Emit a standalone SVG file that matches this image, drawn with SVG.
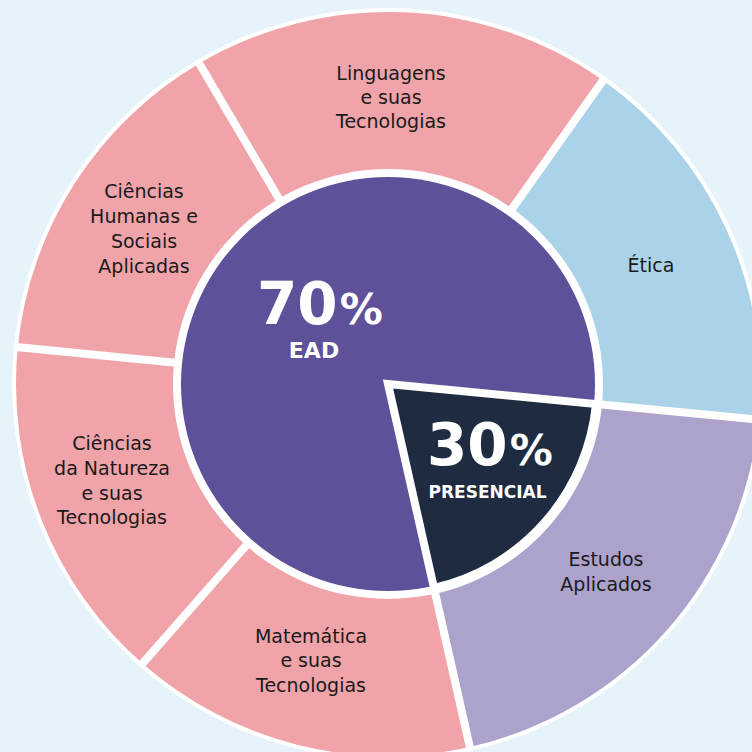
<svg xmlns="http://www.w3.org/2000/svg" width="752" height="752" viewBox="0 0 752 752">
<style>
.lbl{font-family:"DejaVu Sans","Noto Sans",sans-serif;font-size:19px;fill:#1a1a1a;text-anchor:middle}
.big{font-family:"DejaVu Sans","Noto Sans",sans-serif;font-weight:bold;fill:#ffffff}
.sep{stroke:#ffffff;stroke-width:8;stroke-linecap:butt}
</style>
<rect x="0" y="0" width="752" height="752" fill="#e7f3fa"/>
<circle cx="388" cy="384" r="376" fill="#ffffff"/>
<g id="etica">
<path d="M388 384 L603.0 80.4 A372 372 0 0 1 758.3 419.7 Z" fill="#aad2e9"/>
<text class="lbl" x="651" y="272">Ética</text>
</g>
<g id="estudos-aplicados">
<path d="M388 384 L758.3 419.7 A372 372 0 0 1 469.8 746.9 Z" fill="#ada2cc"/>
<text class="lbl" x="606" y="566">Estudos</text>
<text class="lbl" x="606" y="591">Aplicados</text>
</g>
<g id="matematica">
<path d="M388 384 L469.8 746.9 A372 372 0 0 1 142.5 663.5 Z" fill="#f0a3a8"/>
<text class="lbl" x="311" y="643">Matemática</text>
<text class="lbl" x="311" y="667">e suas</text>
<text class="lbl" x="311" y="692">Tecnologias</text>
</g>
<g id="ciencias-natureza">
<path d="M388 384 L142.5 663.5 A372 372 0 0 1 17.8 347.1 Z" fill="#f0a3a8"/>
<text class="lbl" x="112" y="450">Ciências</text>
<text class="lbl" x="112" y="475">da Natureza</text>
<text class="lbl" x="112" y="500">e suas</text>
<text class="lbl" x="112" y="524">Tecnologias</text>
</g>
<g id="ciencias-humanas">
<path d="M388 384 L17.8 347.1 A372 372 0 0 1 199.2 63.5 Z" fill="#f0a3a8"/>
<text class="lbl" x="144" y="198">Ciências</text>
<text class="lbl" x="144" y="223">Humanas e</text>
<text class="lbl" x="144" y="248">Sociais</text>
<text class="lbl" x="144" y="273">Aplicadas</text>
</g>
<g id="linguagens">
<path d="M388 384 L199.2 63.5 A372 372 0 0 1 603.0 80.4 Z" fill="#f0a3a8"/>
<text class="lbl" x="391" y="80">Linguagens</text>
<text class="lbl" x="391" y="104">e suas</text>
<text class="lbl" x="391" y="128">Tecnologias</text>
</g>
<g id="connectors">
<line class="sep" x1="388" y1="384" x2="762.3" y2="420.0"/>
<line class="sep" x1="388" y1="384" x2="470.7" y2="750.8"/>
<line class="sep" x1="388" y1="384" x2="139.9" y2="666.5"/>
<line class="sep" x1="388" y1="384" x2="13.9" y2="346.7"/>
<line class="sep" x1="388" y1="384" x2="197.2" y2="60.0"/>
<line class="sep" x1="388" y1="384" x2="605.3" y2="77.1"/>
</g>
<circle cx="388" cy="384" r="215" fill="#ffffff"/>
<g id="ead">
<circle cx="388" cy="384" r="207" fill="#5f509a"/>
<text class="big" x="257" y="324" font-size="58">70<tspan font-size="43" dx="2">%</tspan></text>
<text class="big" x="314" y="358" font-size="22" text-anchor="middle">EAD</text>
</g>
<g id="presencial">
<path d="M388 384 L596.0 404.0 A209 209 0 0 1 434.0 587.9 Z" fill="#1f2b40" stroke="#ffffff" stroke-width="8" stroke-linejoin="miter"/>
<text class="big" x="427" y="465" font-size="58">30<tspan font-size="43" dx="2">%</tspan></text>
<text class="big" x="487.5" y="498" font-size="17" text-anchor="middle">PRESENCIAL</text>
</g>
</svg>
